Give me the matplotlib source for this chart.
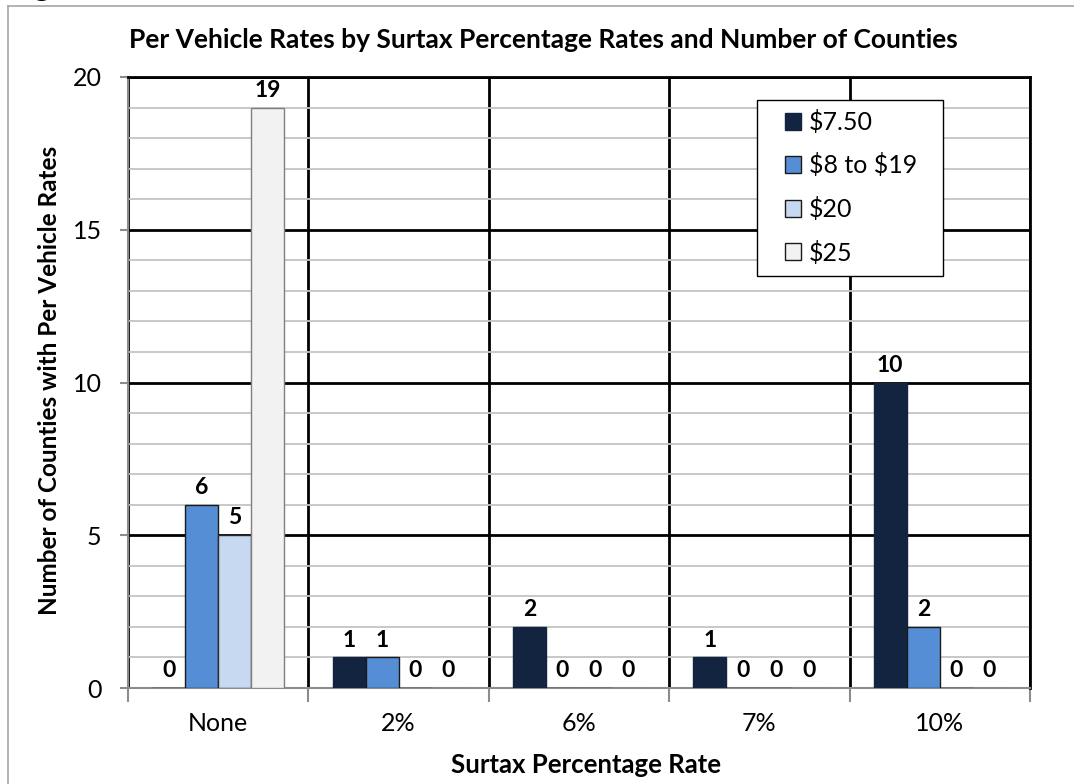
import matplotlib
matplotlib.use("Agg")
import matplotlib.pyplot as plt
from matplotlib.lines import Line2D
from matplotlib.patches import Rectangle
import numpy as np

plt.rcParams['font.family'] = ['Lato', 'DejaVu Sans']
plt.rcParams['text.parse_math'] = False

# Surtax percentage rate categories
categories = ["None", "2%", "6%", "7%", "10%"]

# Number of counties for each per-vehicle rate
series_names = ["$7.50", "$8 to $19", "$20", "$25"]
rate_750 = [0, 1, 2, 1, 10]
rate_8_19 = [6, 1, 0, 0, 2]
rate_20 = [5, 0, 0, 0, 0]
rate_25 = [19, 0, 0, 0, 0]
series_values = [rate_750, rate_8_19, rate_20, rate_25]

face_colors = ["#12243f", "#558ed5", "#c6d9f1", "#f2f2f2"]
edge_colors = ["#12243f", "#1a1a1a", "#2a2a2a", "#7f7f7f"]

fig = plt.figure(figsize=(10.74, 7.84), dpi=100)
W, H = 1074, 784
ax = fig.add_axes([128 / W, 1 - 688 / H, (1030 - 128) / W, (688 - 77) / H])

x = np.arange(len(categories))
bar_w = 0.183
offsets = (np.arange(4) - 1.5) * bar_w

for vals, off, fc, ec, name in zip(series_values, offsets, face_colors, edge_colors, series_names):
    ax.bar(x + off, vals, width=bar_w, color=fc, edgecolor=ec,
           linewidth=1.0, label=name, zorder=3)
    for xi, v in zip(x + off, vals):
        ax.annotate(str(v), (xi, v), xytext=(0, 5), textcoords="offset points",
                    ha="center", va="bottom", fontsize=16.5, fontweight="bold",
                    color="black", zorder=6)

ax.set_xlim(-0.5, len(categories) - 0.5)
ax.set_ylim(0, 20)

# Y axis: major ticks every 5 (black grid), minor every 1 (gray grid)
ax.set_yticks([0, 5, 10, 15, 20])
ax.set_yticks(np.arange(0, 21, 1), minor=True)
ax.yaxis.grid(True, which="major", color="black", linewidth=2.0, zorder=0.6)
ax.yaxis.grid(True, which="minor", color="#c4c4c4", linewidth=1.3, zorder=0.5)
ax.yaxis.get_major_ticks()[0].gridline.set_visible(False)
ax.tick_params(axis="y", which="major", length=6, width=1.5, color="#8c8c8c",
               labelsize=18, pad=13)
ax.tick_params(axis="y", which="minor", length=0)

# X axis: category labels, boundary ticks with black vertical dividers
ax.set_xticks(x)
ax.set_xticklabels(categories)
ax.set_xticks(np.arange(-0.5, len(categories), 1.0), minor=True)
ax.xaxis.grid(True, which="minor", color="black", linewidth=2.0, zorder=0.6)
ax.tick_params(axis="x", which="major", length=0, labelsize=18, pad=17)
ax.tick_params(axis="x", which="minor", length=10, width=1.5, color="#8c8c8c")
ax.set_axisbelow(True)

for side in ["left", "bottom"]:
    ax.spines[side].set_color("#8c8c8c")
    ax.spines[side].set_linewidth(1.5)
for side in ["right", "top"]:
    ax.spines[side].set_color("black")
    ax.spines[side].set_linewidth(2.0)

fig.text(586 / W, 1 - 765 / H, "Surtax Percentage Rate",
         ha="center", va="center", fontsize=18.5, fontweight="bold")
fig.text(50 / W, 1 - 380 / H, "Number of Counties with Per Vehicle Rates",
         rotation=90, ha="center", va="center", fontsize=17.5, fontweight="bold")
fig.text(543 / W, 1 - 40 / H,
         "Per Vehicle Rates by Surtax Percentage Rates and Number of Counties",
         ha="center", va="center", fontsize=19, fontweight="bold")

# Legend box
lx0, ly0, lx1, ly1 = 757, 100, 943, 276
ax_w, ax_h = 1030 - 128, 688 - 77
frame = Rectangle(((lx0 - 128) / ax_w, (688 - ly1) / ax_h),
                  (lx1 - lx0) / ax_w, (ly1 - ly0) / ax_h,
                  transform=ax.transAxes, facecolor="white", edgecolor="black",
                  linewidth=1.0, zorder=4.5)
ax.add_patch(frame)
handles = [Rectangle((0, 0), 1, 1, facecolor=fc, edgecolor=(fc if i == 0 else "#1a1a1a"),
                     linewidth=1.0) for i, fc in enumerate(face_colors)]
leg = ax.legend(handles, series_names, loc="upper left",
                bbox_to_anchor=((785 - 128) / ax_w, (688 - 110) / ax_h),
                frameon=False, fontsize=18, handlelength=0.65, handleheight=0.65,
                handletextpad=0.3, labelspacing=0.78, borderpad=0.0,
                borderaxespad=0)
leg.set_zorder(5)

# Page frame and clipped caption letter
fig.add_artist(Line2D([8 / W, 8 / W], [0, 1 - 6 / H], transform=fig.transFigure,
                      color="#a6a6a6", linewidth=1.2))
fig.add_artist(Line2D([8 / W, 1], [1 - 6 / H, 1 - 6 / H], transform=fig.transFigure,
                      color="#a6a6a6", linewidth=1.2))
fig.text(33 / W, 1 + 4 / H, "g", ha="left", va="baseline", fontsize=22,
         fontweight="bold")

fig.savefig("out.png", dpi=100, facecolor="white")
